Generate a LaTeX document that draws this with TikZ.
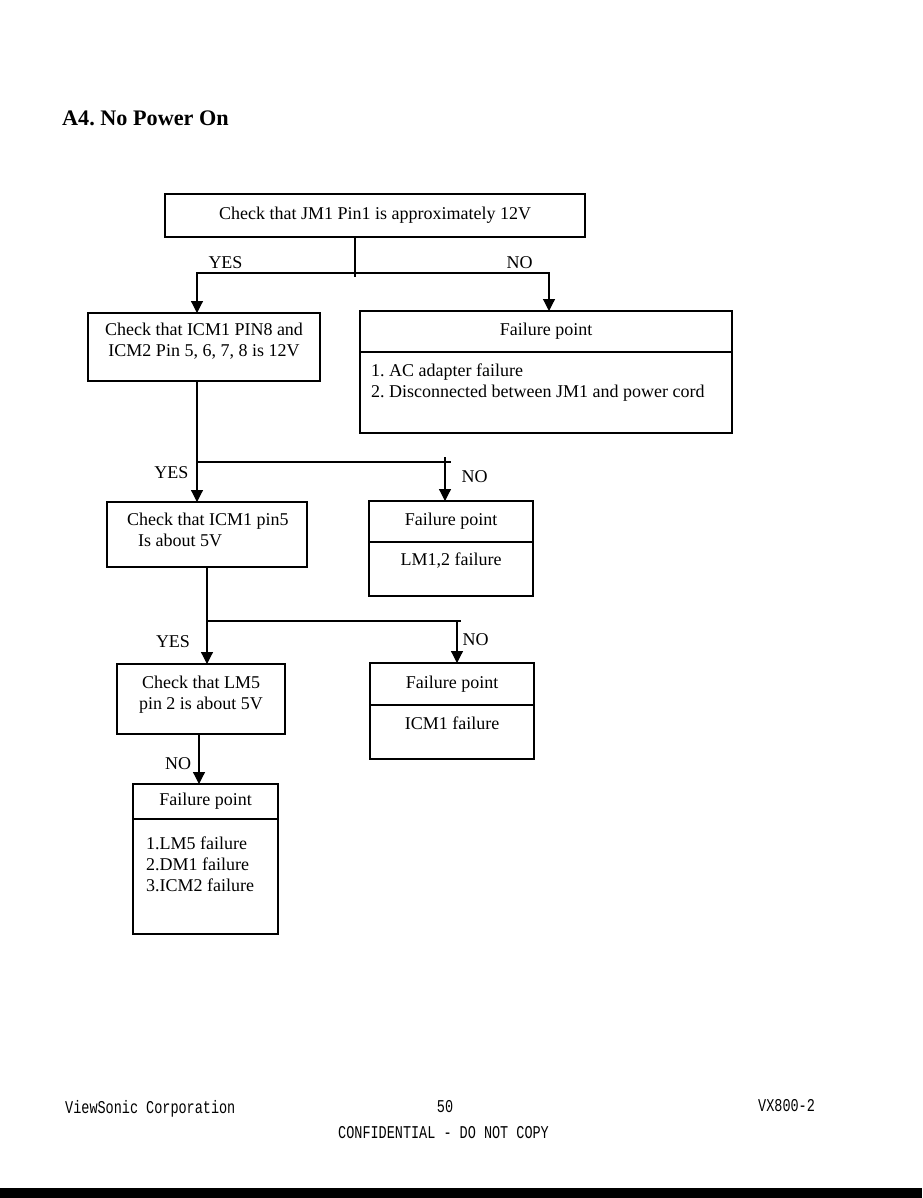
\documentclass[tikz,border=0pt]{standalone}
\usepackage{fontspec}
\setmainfont{Liberation Serif}
\newfontfamily\footfont[FakeStretch=0.75]{Liberation Mono}
\usetikzlibrary{arrows.meta, positioning, calc}
\frenchspacing

\begin{document}
\begin{tikzpicture}[
    x=1pt, y=-1pt,
    font=\fontsize{18}{21}\selectfont,
    box/.style = {rectangle, draw, line width=1.2pt, inner sep=0pt, outer sep=0pt},
    txt/.style = {inner sep=0pt, align=center, anchor=north},
    list/.style = {inner sep=0pt, align=left, anchor=north west},
    lbl/.style = {inner sep=0pt},
    wire/.style = {draw, line width=1.2pt},
    arrow/.style = {draw, line width=1.2pt, -{Triangle[width=12pt, length=12pt]}},
    foot/.style = {inner sep=0pt, anchor=base west, font=\footfont\fontsize{18}{20}\selectfont}
]
    \fill [white] (0,0) rectangle (922,1198);
    \useasboundingbox (0,0) rectangle (922,1198);

    \node [inner sep=0pt, anchor=north west, font=\bfseries\fontsize{22.2}{26}\selectfont] (title) at (62,111) {A4. No Power On};

    \node [box, minimum width=420pt, minimum height=43pt] (jm1) at (375,215.5) {Check that JM1 Pin1 is approximately 12V};

    \node [box, minimum width=232pt, minimum height=68pt] (icm12v) at (204,347) {};
    \node [txt, below=9.5pt of icm12v.north] (icm12vtxt) {Check that ICM1 PIN8 and\\ICM2 Pin 5, 6, 7, 8 is 12V};

    \node [box, minimum width=372pt, minimum height=41pt] (failA) at (546,331.5) {Failure point};
    \node [box, minimum width=372pt, minimum height=81pt, below=0pt of failA] (failAbody) {};
    \node [list, below right=11.5pt and 11pt of failAbody.north west] (failAtxt) {1. AC adapter failure\\2. Disconnected between JM1 and power cord};

    \node [box, minimum width=200pt, minimum height=65pt] (pin5) at (207,534.5) {};
    \node [list, below right=10.5pt and 20pt of pin5.north west] (pin5txt) {Check that ICM1 pin5\\\hspace*{11pt}Is about 5V};

    \node [box, minimum width=164pt, minimum height=41pt] (failB) at (451,521.5) {Failure point};
    \node [box, minimum width=164pt, minimum height=54pt, below=0pt of failB] (failBbody) {};
    \node [txt, below=10.5pt of failBbody.north] (failBtxt) {LM1,2 failure};

    \node [box, minimum width=168pt, minimum height=70pt] (lm5) at (201,699) {};
    \node [txt, below=11.5pt of lm5.north] (lm5txt) {Check that LM5\\pin 2 is about 5V};

    \node [box, minimum width=164pt, minimum height=42pt] (failC) at (452,684) {Failure point};
    \node [box, minimum width=164pt, minimum height=54pt, below=0pt of failC] (failCbody) {};
    \node [txt, below=11.5pt of failCbody.north] (failCtxt) {ICM1 failure};

    \node [box, minimum width=145pt, minimum height=35pt] (failD) at (205.5,801.5) {Failure point};
    \node [box, minimum width=145pt, minimum height=115pt, below=0pt of failD] (failDbody) {};
    \node [list, below right=17.5pt and 13pt of failDbody.north west] (failDtxt) {1.LM5 failure\\2.DM1 failure\\3.ICM2 failure};

    \coordinate (split1) at (355,273);
    \coordinate (split2) at (197,462);
    \coordinate (end2) at (451,462);
    \coordinate (no2) at (445,457);
    \coordinate (split3) at (207,621);
    \coordinate (end3) at (461,621);
    \coordinate (no3) at (457,621);

    \draw [wire] (split1 |- jm1.south) -- ([yshift=-4pt]split1);
    \draw [arrow] (split1) -| ([xshift=-7pt]icm12v.north);
    \draw [arrow] (split1) -| ([xshift=3pt]failA.north);
    \node [lbl] (yes1) at (225.5,263) {YES};
    \node [lbl] (no1) at (519.5,263) {NO};

    \draw [arrow] ([xshift=-7pt]icm12v.south) -- ([xshift=-10pt]pin5.north);
    \draw [wire] (split2) -- (end2);
    \draw [arrow] (no2) -- (no2 |- failB.north);
    \node [lbl] (yes2) at (171.5,473) {YES};
    \node [lbl] (no2lbl) at (474.5,477) {NO};

    \draw [arrow] (pin5.south) -- (pin5.south |- lm5.north);
    \draw [wire] (split3) -- (end3);
    \draw [arrow] (no3) -- (no3 |- failC.north);
    \node [lbl] (yes3) at (173,642) {YES};
    \node [lbl] (no3lbl) at (475.5,640) {NO};

    \draw [arrow] ([xshift=-2pt]lm5.south) -- ([xshift=-6.5pt]failD.north);
    \node [lbl] (no4) at (178,763.5) {NO};

    \node [foot] (corp) at (65,1113.5) {ViewSonic Corporation};
    \node [foot, anchor=base] (page) at (445,1112) {50};
    \node [foot] (model) at (758,1111) {VX800-2};
    \node [foot] (conf) at (338,1138.5) {CONFIDENTIAL - DO NOT COPY};

    \fill (0,1188) rectangle (922,1198);
\end{tikzpicture}
\end{document}
